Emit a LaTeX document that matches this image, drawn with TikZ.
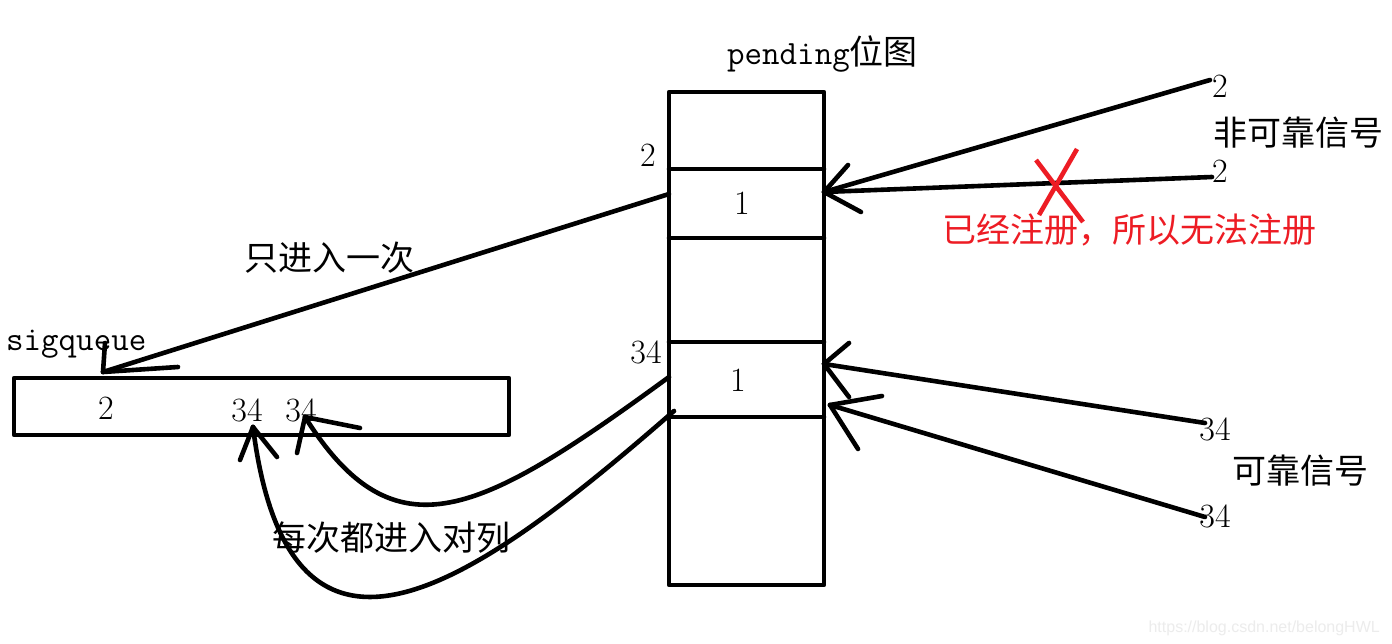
\documentclass[tikz,border=0pt]{standalone}
\usepackage{fontspec}
\newfontfamily\cjk{Noto Sans CJK SC}
\newfontfamily\wmfont{Liberation Sans}
\definecolor{pred}{RGB}{237,28,36}
\definecolor{wmgray}{RGB}{236,236,236}
\begin{document}
\begin{tikzpicture}[x=1pt,y=-1pt,
  ln/.style={line width=4.6pt, line cap=round, line join=round},
  num/.style={font=\fontsize{34}{40}\selectfont, inner sep=0pt, anchor=base},
  zh/.style={font=\fontsize{34}{40}\selectfont\cjk, inner sep=0pt, anchor=base west},
  tt/.style={font=\fontsize{34}{40}\selectfont\ttfamily, inner sep=0pt, anchor=base west},
]
\useasboundingbox (0,0) rectangle (1392,644);
\fill[white] (0,0) rectangle (1392,644);

% pending bitmap
\coordinate (pTL) at (669,92);
\coordinate (pBR) at (824,585);
\draw[ln] (pTL) rectangle (pBR);
\foreach \yy in {169,238,342,417} \draw[ln] (669,\yy) -- (824,\yy);
\node[tt] (ptitle) at (727,65) {pending{\cjk 位图}};
\node[num] (p2) at (648,167) {2};
\node[num] (p1a) at (742,215) {1};
\node[num] (p34) at (646,363) {34};
\node[num] (p1b) at (738,391) {1};

% sigqueue
\draw[ln] (14,378) rectangle (509,435);
\node[tt] (sq) at (6,350) {sigqueue};
\node[num] (q2) at (106,419) {2};
\node[num] (q34a) at (247,421) {34};
\node[num] (q34b) at (301,421) {34};

% labels
\node[zh] (once) at (244,271) {只进入一次};
\node[zh] (every) at (272,550) {每次都进入对列};
\node[zh] (unrel) at (1213,146) {非可靠信号};
\node[zh] (rel) at (1232,483) {可靠信号};
\node[zh, text=pred] (reg) at (942,243) {已经注册，所以无法注册};
\node[num] (r2a) at (1220,98) {2};
\node[num] (r2b) at (1220,183) {2};
\node[num] (r34a) at (1215,440) {34};
\node[num] (r34b) at (1215,527) {34};

% coordinates
\coordinate (T1) at (824,192);
\coordinate (S) at (103,372);
\coordinate (Lstart) at (669,194);
\coordinate (C1s) at (669,377);
\coordinate (C1) at (305,417);
\coordinate (C2s) at (674,411);
\coordinate (C2) at (253,427);
\coordinate (R1) at (824,364);
\coordinate (R2) at (830,405);
\coordinate (A2a) at (1210,80);
\coordinate (A2b) at (1212,177);
\coordinate (A34a) at (1205,423);
\coordinate (A34b) at (1205,517);

% unreliable signals
\draw[ln] (A2a) -- (T1);
\draw[ln] (A2b) -- (T1);
\draw[ln] (T1) -- (848,165);
\draw[ln] (T1) -- (861,212);

% pending -> sigqueue once
\draw[ln] (Lstart) -- (S);
\draw[ln] (S) -- (105,343);
\draw[ln] (S) -- (178,367);

% reliable signals
\draw[ln] (A34a) -- (R1);
\draw[ln] (R1) -- (849,343);
\draw[ln] (R1) -- (849,397);
\draw[ln] (A34b) -- (R2);
\draw[ln] (R2) -- (882,396);
\draw[ln] (R2) -- (858,449);

% curves into queue
\draw[ln] (C1s) .. controls (480,515) and (395,560) .. (C1);
\draw[ln] (C1) -- (297,453);
\draw[ln] (C1) -- (360,428);
\draw[ln] (C2s) .. controls (480,580) and (290,720) .. (C2);
\draw[ln] (C2) -- (240,460);
\draw[ln] (C2) -- (277,457);

% red cross
\draw[line width=4.6pt, pred] (1036,160) -- (1083,222);
\draw[line width=4.6pt, pred] (1077,149) -- (1039,215);

% watermark
\node[font=\fontsize{16}{18}\selectfont\wmfont, text=wmgray, inner sep=0pt, anchor=base east] (wm) at (1380,632) {https://blog.csdn.net/belongHWL};
\end{tikzpicture}
\end{document}
